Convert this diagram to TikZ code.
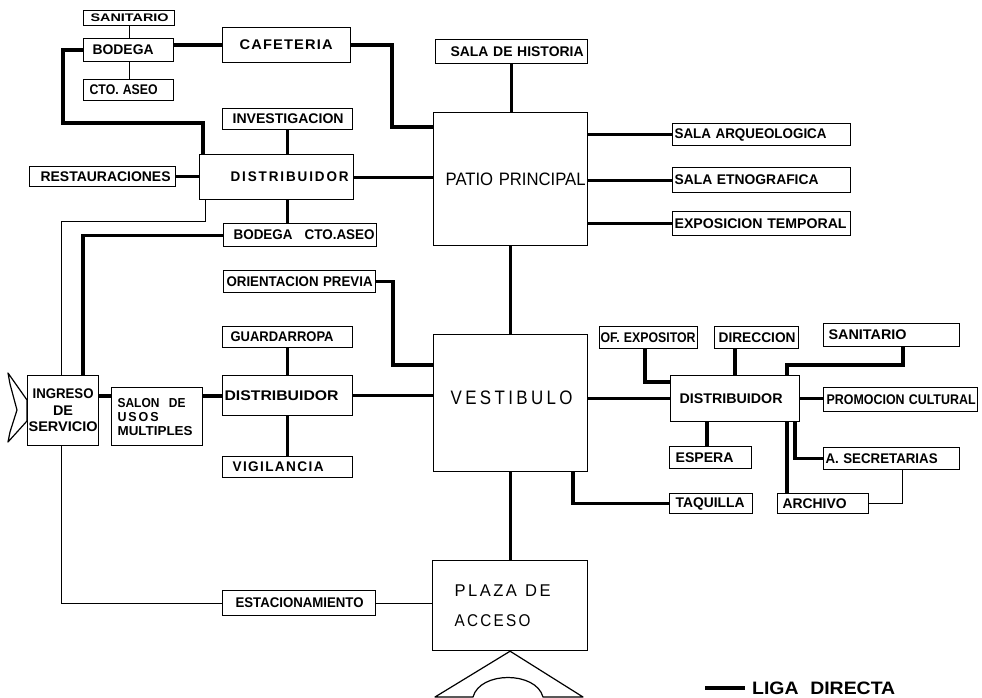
\documentclass[tikz,border=0pt]{standalone}
\usepackage{fontspec}
\usepackage{graphicx}
\setmainfont{Liberation Sans}
% label fonts
\newcommand\lbl{\bfseries\fontsize{14}{16}\selectfont}
\newcommand\lblsm{\bfseries\fontsize{11}{12}\selectfont}
\newcommand\lblthree{\bfseries\fontsize{14}{16.5}\selectfont}
\newcommand\lblsalon{\bfseries\fontsize{13}{14}\selectfont}
\newcommand\patiofont{\fontsize{18}{20}\selectfont}
\newcommand\vestfont{\fontsize{19.5}{22}\selectfont\addfontfeature{LetterSpace=20}}
\newcommand\plazafont{\fontsize{17}{30}\selectfont\addfontfeature{LetterSpace=15}}
\newcommand\legfont{\bfseries\fontsize{18}{20}\selectfont}
% one text line: left indent, printed width, text
\newcommand\tx[3]{\hspace*{#1pt}\resizebox{#2pt}{\height}{#3}}
\begin{document}
\begin{tikzpicture}[x=1pt,y=-1pt,
  box/.style={draw, line width=1.2pt, inner xsep=0pt, inner ysep=0pt, font=\lbl},
  corners/.code args={#1,#2,#3,#4}{%
    \pgfmathsetmacro\cbw{#3-#1}\pgfmathsetmacro\cbh{#4-#2}%
    \edef\cbnext{\noexpand\tikzset{anchor=north west, at={(#1,#2)},
      text width=\cbw pt, minimum height=\cbh pt, align=left}}\cbnext},
  liga/.style={line width=3.2pt},
  thinline/.style={line width=0.9pt},
  outline/.style={line width=1.2pt, line join=round}]
\fill[white] (0,0) rectangle (982,698);
\useasboundingbox (0,0) rectangle (982,698);

% ---- service block (top left)
\node[box,font=\lblsm,corners={83,10,174,25}] (san1) {\tx{7}{78}{SANITARIO}};
\node[box,corners={83,38,173,61}] (bod1) {\tx{9}{61}{BODEGA}};
\node[box,corners={83,79,173,100}] (cto1) {\tx{6}{68}{CTO. ASEO}};
\node[box,corners={222,27,350,62}] (caf) {\tx{17}{93}{\addfontfeature{LetterSpace=8}CAFETERIA}};
\node[box,corners={222,108,352,129}] (inv) {\tx{10}{111}{INVESTIGACION}};
\node[box,corners={199,154,353,199}] (dist1) {\tx{31}{118}{\addfontfeature{LetterSpace=14}DISTRIBUIDOR}};
\node[box,corners={29,166,175,186}] (rest) {\tx{11}{130}{RESTAURACIONES}};
\node[box,corners={223,223,376,246}] (bodcto) {\tx{10}{141}{BODEGA\hspace{0.9em}CTO.ASEO}};

% ---- exhibition block
\node[box,corners={435,39,587,63}] (hist) {\tx{15}{133}{SALA DE HISTORIA}};
\node[box,font=\patiofont,corners={433,112,587,245}] (patio) {\tx{12}{140}{PATIO PRINCIPAL}};
\node[box,corners={672,123,850,145}] (arq) {\tx{2}{152}{SALA ARQUEOLOGICA}};
\node[box,corners={672,167,850,192}] (etn) {\tx{2}{144}{SALA ETNOGRAFICA}};
\node[box,corners={672,211,850,235}] (expo) {\tx{2}{172}{EXPOSICION TEMPORAL}};

% ---- entrance block (left)
\node[box,corners={223,270,375,292}] (orient) {\tx{3}{146}{ORIENTACION PREVIA}};
\node[box,corners={222,326,352,347}] (guard) {\tx{8}{103}{GUARDARROPA}};
\node[box,corners={222,375,352,415}] (dist2) {\tx{2}{114}{DISTRIBUIDOR}};
\node[box,corners={222,456,352,477}] (vig) {\tx{10}{91}{\addfontfeature{LetterSpace=10}VIGILANCIA}};
\node[box,font=\lblthree,corners={27,375,98,445},align=center] (ingr)
  {\resizebox{61pt}{\height}{INGRESO}\\\resizebox{20pt}{\height}{DE}\\\resizebox{69pt}{\height}{SERVICIO}};
\node[box,font=\lblsalon,corners={111,387,202,445}] (salon)
  {\tx{6}{68}{SALON\hspace{0.8em}DE}\\\tx{6}{41}{\addfontfeature{LetterSpace=15}USOS}\\\tx{6}{75}{MULTIPLES}};
\node[box,font=\vestfont,corners={433,334,587,471}] (vest)
  {\tx{17}{122}{\raisebox{5pt}[\height][0pt]{VESTIBULO}}};

% ---- administration block (right)
\node[box,corners={599,326,697,348}] (ofexp) {\tx{1}{95}{OF. EXPOSITOR}};
\node[box,corners={714,326,798,348}] (dir) {\tx{4}{77}{DIRECCION}};
\node[box,corners={823,323,959,346}] (san2) {\tx{5}{78}{SANITARIO}};
\node[box,corners={670,375,799,421}] (dist3) {\tx{9}{103}{DISTRIBUIDOR}};
\node[box,corners={823,387,977,411}] (promo) {\tx{3}{149}{PROMOCION CULTURAL}};
\node[box,corners={669,446,751,468}] (esp) {\tx{6}{58}{ESPERA}};
\node[box,corners={823,447,959,469}] (asec) {\tx{2}{112}{A. SECRETARIAS}};
\node[box,corners={669,493,752,513}] (taq) {\tx{6}{69}{TAQUILLA}};
\node[box,corners={777,493,868,513}] (arch) {\tx{5}{64}{ARCHIVO}};

% ---- access
\node[box,corners={222,590,375,615}] (estac) {\tx{13}{128}{ESTACIONAMIENTO}};
\node[box,font=\plazafont,corners={432,560,587,650}] (plaza)
  {\tx{22}{96}{PLAZA\hspace{0.5em}DE}\\\tx{22}{76}{ACCESO}};

% ---- bend points
\coordinate (xa) at (63,123);
\coordinate (xb) at (392,127);
\coordinate (xc) at (205,221);
\coordinate (xd) at (61,221);
\coordinate (xe) at (83,0);
\coordinate (ya) at (0,396);
\coordinate (xf) at (393,365);
\coordinate (xh) at (573,502);
\coordinate (xi) at (645,382);
\coordinate (xj) at (735,0);
\coordinate (xk) at (903,365);
\coordinate (xl) at (787,365);
\coordinate (xm) at (707,0);
\coordinate (xn) at (795,0);
\coordinate (xo) at (902,0);

% ---- connectors, top left
\draw[thinline] (san1.south) -- (san1.south |- bod1.north);
\draw[thinline] (san1.south |- bod1.south) -- (san1.south |- cto1.north);
\draw[liga] (bod1.east |- caf.west) -- (caf.west);
\draw[liga] (bod1.west) -| (xa) -| ([xshift=4pt]dist1.north west);
\draw[liga] (caf.east) -| (xb) -- (xb -| patio.west);
\draw[liga] (inv.south) -- (inv.south |- dist1.north);
\draw[liga] (rest.east) -- (rest.east -| dist1.west);
\draw[liga] (dist1.east) -- (dist1.east -| patio.west);
\draw[liga] (inv.south |- dist1.south) -- (inv.south |- bodcto.north);
\draw[thinline] (xc |- dist1.south) -- (xc) -- (xd) -- (xd |- ingr.north);
\draw[liga] (bodcto.west) -| (xe |- ingr.north);

% ---- connectors, patio
\draw[liga] (hist.south) -- (hist.south |- patio.north);
\draw[liga] (arq.west -| patio.east) -- (arq.west);
\draw[liga] (etn.west -| patio.east) -- (etn.west);
\draw[liga] (expo.west -| patio.east) -- (expo.west);
\draw[liga] (patio.south) -- (patio.south |- vest.north);

% ---- connectors, entrance
\draw[liga] (ingr.east |- ya) -- (salon.west |- ya);
\draw[liga] (salon.east |- ya) -- (dist2.west |- ya);
\draw[liga] (guard.south) -- (guard.south |- dist2.north);
\draw[liga] (guard.south |- dist2.south) -- (guard.south |- vig.north);
\draw[liga] (dist2.east) -- (dist2.east -| vest.west);
\draw[liga] (orient.east) -| (xf) -- (xf -| vest.west);
\draw[liga] (vest.south) -- (vest.south |- plaza.north);
\draw[liga] (xh |- vest.south) |- (taq.west);

% ---- connectors, administration
\draw[liga] (vest.east |- dist3.west) -- (dist3.west);
\draw[liga] (xi |- ofexp.south) -- (xi) -- (xi -| dist3.west);
\draw[liga] (xj |- dir.south) -- (xj |- dist3.north);
\draw[liga] (xk |- san2.south) -- (xk) -- (xl) -- (xl |- dist3.north);
\draw[liga] (dist3.east) -- (dist3.east -| promo.west);
\draw[liga] (xm |- dist3.south) -- (xm |- esp.north);
\draw[liga] (xl |- dist3.south) -- (xl |- arch.north);
\draw[liga] (xn |- dist3.south) |- (asec.west);
\draw[thinline] (xo |- asec.south) |- (arch.east);

% ---- service access and parking
\draw[thinline] (xd |- ingr.south) |- (estac.west);
\draw[thinline] (estac.east) -- (estac.east -| plaza.west);

% ---- entrance symbols
\draw[outline] (8,373) -- (27,400) -- (27,421) -- (8,442) -- (10,432) -- (17,410) -- (10,384) -- cycle;
\draw[outline] (plaza.south) -- (435,697) -- (473,697)
  .. controls (480,671) and (536,671) .. (543,697) -- (583,697) -- cycle;

% ---- legend
\coordinate (la) at (705,688);
\coordinate (lb) at (745,688);
\draw[liga] (la) -- (lb);
\node[anchor=west, inner sep=0pt, font=\legfont] (leg) at (752,688)
  {\resizebox{143pt}{\height}{LIGA\hspace{0.6em}DIRECTA}};
\end{tikzpicture}
\end{document}
